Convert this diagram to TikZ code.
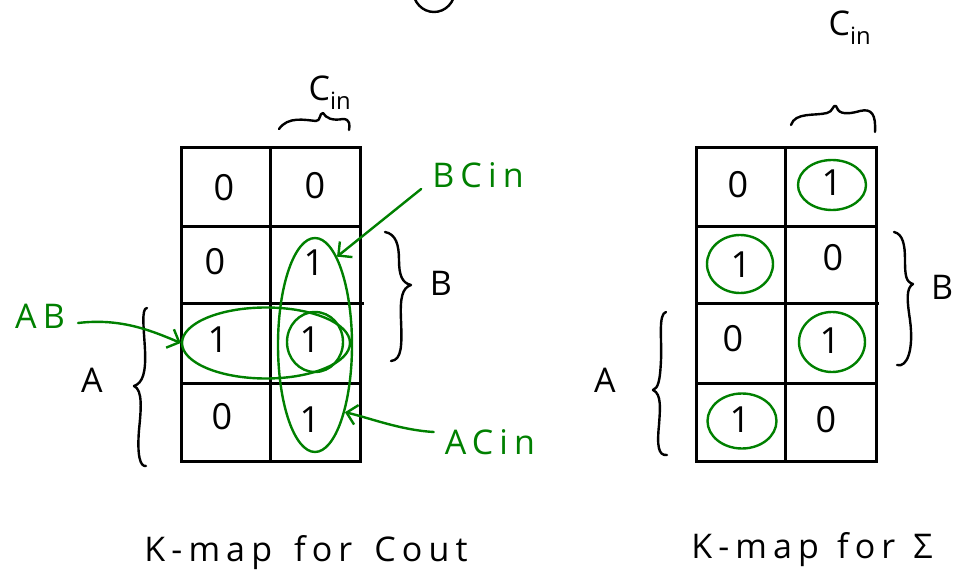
\documentclass[tikz,border=0pt]{standalone}
\usepackage{fontspec}
\setmainfont{Open Sans}
\newfontfamily\spaced[LetterSpace=18]{Open Sans}
\usetikzlibrary{shapes.geometric,arrows.meta}
\definecolor{pen}{RGB}{0,128,0}
\begin{document}
\begin{tikzpicture}[x=1pt,y=-1pt,
  gridline/.style={line width=3pt},
  val/.style={font=\fontsize{36}{36}\selectfont, inner sep=0pt},
  grp/.style={draw=pen, line width=2.4pt, ellipse, inner sep=0pt},
  lab/.style={font=\fontsize{34}{34}\selectfont, inner sep=1pt},
  glab/.style={font=\fontsize{34}{34}\spaced, inner sep=1pt, text=pen},
  captxt/.style={font=\fontsize{34}{34}\spaced, inner sep=1pt},
  bracestroke/.style={line width=2.4pt, line cap=round, line join=round},
  arr/.style={draw=pen, line width=2.4pt, -{Straight Barb[length=10pt,width=20pt,line width=2.4pt]}, line cap=round}]
\useasboundingbox (0,0) rectangle (954,572);
\begin{scope}
  \clip (0,0) rectangle (954,572);
  \draw[bracestroke] (434,-10) ellipse [x radius=21, y radius=22];
\end{scope}

% ---------- left K-map (Cout)
\draw[gridline] (181,148) rectangle (360,461);
\draw[gridline] (270,148) -- (270,461);
\draw[gridline] (181,227) -- (360,227);
\draw[gridline] (181,304) -- (364,304);
\draw[gridline] (181,383) -- (360,383);

\node[val] (l11) at (224,188) {0};
\node[val] (l12) at (315,186) {0};
\node[val] (l21) at (215,262) {0};
\node[val] (l22) at (314,263) {1};
\node[val] (l31) at (218,340) {1};
\node[val] (l32) at (310,340) {1};
\node[val] (l41) at (222,417) {0};
\node[val] (l42) at (310,420) {1};

\node[grp, minimum width=74pt, minimum height=214pt] (vloop) at (315,345) {};
\node[grp, minimum width=168pt, minimum height=71pt] (hloop) at (266,343) {};
\node[grp, minimum width=56pt, minimum height=60pt] (cloop) at (315,342) {};

\node[lab] (cinL) at (330,93) {C\textsubscript{in}};
\draw[bracestroke] (279,129) .. controls (288,116) and (305,120) .. (316,121)
  .. controls (321,121) and (319,113) .. (323,113)
  .. controls (326,118) and (332,121) .. (343,119)
  .. controls (350,119) and (350,125) .. (349,130);

\draw[bracestroke] (385,232) .. controls (396,234) and (399,245) .. (399,260)
  .. controls (399,275) and (402,283) .. (411,285)
  .. controls (402,288) and (400,298) .. (401,320)
  .. controls (402,345) and (402,360) .. (391,361);
\node[lab] (Bl) at (441,283) {B};

\draw[bracestroke] (147,308) .. controls (141,308) and (144,330) .. (145,350)
  .. controls (146,372) and (143,383) .. (134,386)
  .. controls (143,390) and (141,410) .. (139,430)
  .. controls (137,455) and (140,467) .. (146,466);
\node[lab] (Al) at (92,380) {A};

\node[glab] (ABlab) at (40,316) {AB};
\node[glab] (BClab) at (478,175) {BCin};
\node[glab] (AClab) at (490,442) {ACin};
\path (ABlab.east) ++(12,7) coordinate (abs);
\draw[arr] (abs) .. controls (120,318) and (150,330) .. (hloop.west);
\path (BClab.west) ++(-10,14) coordinate (bcs);
\draw[arr] (bcs) -- (vloop.76);
\path (AClab.west) ++(-10,-10) coordinate (acs);
\draw[arr] (acs) .. controls (400,430) and (370,418) .. (vloop.-66);

\node[captxt] (capL) at (306,553) {K-map\hspace{22pt}for\hspace{22pt}Cout};

% ---------- right K-map (Sum)
\draw[gridline] (696,148) rectangle (876,461);
\draw[gridline] (785,148) -- (785,461);
\draw[gridline] (696,227) -- (876,227);
\draw[gridline] (696,304) -- (879,304);
\draw[gridline] (696,383) -- (876,383);

\node[val] (r11) at (738,185) {0};
\node[val] (r12) at (832,183) {1};
\node[val] (r21) at (741,265) {1};
\node[val] (r22) at (833,258) {0};
\node[val] (r31) at (733,339) {0};
\node[val] (r32) at (830,341) {1};
\node[val] (r41) at (740,420) {1};
\node[val] (r42) at (826,420) {0};

\node[grp, minimum width=68pt, minimum height=50pt] (g12) at (832,185) {};
\node[grp, minimum width=66pt, minimum height=58pt] (g21) at (740,264) {};
\node[grp, minimum width=66pt, minimum height=60pt] (g32) at (832,342) {};
\node[grp, minimum width=69pt, minimum height=55pt] (g41) at (742,421) {};

\node[lab] (cinR) at (850,28) {C\textsubscript{in}};
\draw[bracestroke] (791,125) .. controls (795,112) and (815,116) .. (827,113)
  .. controls (833,112) and (833,104) .. (836,106)
  .. controls (838,112) and (842,116) .. (860,111)
  .. controls (872,108) and (876,115) .. (875,132);

\draw[bracestroke] (894,232) .. controls (903,234) and (905,245) .. (905,260)
  .. controls (905,276) and (906,282) .. (913,284)
  .. controls (906,288) and (907,300) .. (910,320)
  .. controls (914,350) and (907,368) .. (897,365);
\node[lab, anchor=west] (Br) at (930,287) {B};

\draw[bracestroke] (666,312) .. controls (658,314) and (662,340) .. (661,360)
  .. controls (660,382) and (658,388) .. (653,390)
  .. controls (662,394) and (660,410) .. (659,425)
  .. controls (657,445) and (658,456) .. (667,455);
\node[lab] (Ar) at (605,380) {A};

\node[captxt] (capR) at (812,550) {K-map\hspace{18pt}for\hspace{18pt}Σ};
\end{tikzpicture}
\end{document}
